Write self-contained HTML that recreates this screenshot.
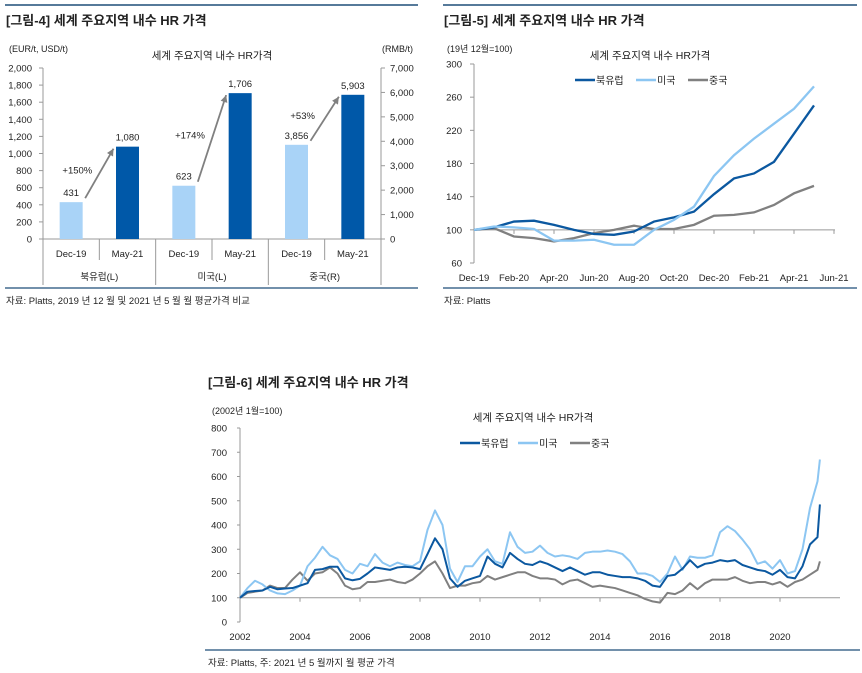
<!DOCTYPE html>
<html><head><meta charset="utf-8"><style>
body{margin:0;background:#fff;width:862px;height:673px;overflow:hidden;font-family:"Liberation Sans","Noto Sans CJK KR",sans-serif;}
svg{display:block}
text{font-family:"Liberation Sans","Noto Sans CJK KR",sans-serif;fill:#222}
</style></head><body>
<svg id="s" width="862" height="673">
<!-- Figure 4 -->
<g>
<line x1="5" y1="5" x2="418" y2="5" stroke="#1f4e79" stroke-width="1.5"/>
<text x="6" y="25" font-size="13" font-weight="bold" fill="#222">[그림-4] 세계 주요지역 내수 HR 가격</text>
<text x="9" y="52" font-size="9">(EUR/t, USD/t)</text>
<text x="382" y="52" font-size="9">(RMB/t)</text>
<text x="212" y="59" font-size="10.5" text-anchor="middle">세계 주요지역 내수 HR가격</text>
<line x1="5" y1="288" x2="418" y2="288" stroke="#1f4e79" stroke-width="1.2"/>
<text x="6" y="304" font-size="9.5" fill="#888">자료: Platts, 2019 년 12 월 및 2021 년 5 월 월 평균가격 비교</text>
<g id="c1"></g>
</g>
<!-- Figure 5 -->
<g>
<line x1="443" y1="5" x2="857" y2="5" stroke="#1f4e79" stroke-width="1.5"/>
<text x="444" y="25" font-size="13" font-weight="bold">[그림-5] 세계 주요지역 내수 HR 가격</text>
<text x="447" y="52" font-size="9">(19년 12월=100)</text>
<text x="650" y="59" font-size="10.5" text-anchor="middle">세계 주요지역 내수 HR가격</text>
<line x1="443" y1="288" x2="857" y2="288" stroke="#1f4e79" stroke-width="1.2"/>
<text x="444" y="304" font-size="9.5" fill="#888">자료: Platts</text>
<g id="c2"></g>
</g>
<!-- Figure 6 -->
<g>
<text x="208" y="387" font-size="13" font-weight="bold">[그림-6] 세계 주요지역 내수 HR 가격</text>
<text x="212" y="414" font-size="9">(2002년 1월=100)</text>
<text x="533" y="421" font-size="10.5" text-anchor="middle">세계 주요지역 내수 HR가격</text>
<line x1="205" y1="650" x2="860" y2="650" stroke="#1f4e79" stroke-width="1.2"/>
<text x="208" y="666" font-size="9.5" fill="#888">자료: Platts, 주: 2021 년 5 월까지 월 평균 가격</text>
<g id="c3"></g>
</g>
</svg>
<script>
// ---- Chart 1 data ----
const c1Regions=["북유럽(L)","미국(L)","중국(R)"];
const c1Periods=["Dec-19","May-21"];
const c1Values=[431,1080,623,1706,3856,5903];
const c1Axis=["L","L","L","L","R","R"];
const c1Growth=["+150%","+174%","+53%"];
const c1LeftTicks=[0,200,400,600,800,1000,1200,1400,1600,1800,2000];
const c1RightTicks=[0,1000,2000,3000,4000,5000,6000,7000];
// ---- Chart 2 data ----
const c2Labels=["Dec-19","Feb-20","Apr-20","Jun-20","Aug-20","Oct-20","Dec-20","Feb-21","Apr-21","Jun-21"];
const c2Europe=[100,103,110,111,106,100,95,94,98,110,115,122,143,162,168,182,216,250];
const c2US=[100,104,103,101,87,87,88,82,82,100,112,128,165,190,210,228,246,273];
const c2China=[100,102,92,90,86,90,96,100,105,101,101,106,117,118,121,130,144,153];
const c2Ticks=[60,100,140,180,220,260,300];
// ---- Chart 3 data ----
const c3Years=[2002,2004,2006,2008,2010,2012,2014,2016,2018,2020];
const c3Ticks=[0,100,200,300,400,500,600,700,800];
const c3Dates=[2002,2002.25,2002.5,2002.75,2003,2003.25,2003.5,2003.75,2004,2004.25,2004.5,2004.75,2005,2005.25,2005.5,2005.75,2006,2006.25,2006.5,2006.75,2007,2007.25,2007.5,2007.75,2008,2008.25,2008.5,2008.75,2009,2009.25,2009.5,2009.75,2010,2010.25,2010.5,2010.75,2011,2011.25,2011.5,2011.75,2012,2012.25,2012.5,2012.75,2013,2013.25,2013.5,2013.75,2014,2014.25,2014.5,2014.75,2015,2015.25,2015.5,2015.75,2016,2016.25,2016.5,2016.75,2017,2017.25,2017.5,2017.75,2018,2018.25,2018.5,2018.75,2019,2019.25,2019.5,2019.75,2020,2020.25,2020.5,2020.75,2021,2021.25,2021.33];
const c3Europe=[100,125,128,130,145,135,138,140,150,160,215,218,228,228,180,172,178,200,225,220,215,225,228,225,218,280,345,300,180,145,170,180,190,270,240,225,285,260,240,235,250,240,225,210,225,210,195,205,205,195,190,185,185,180,170,150,145,190,195,220,255,225,240,245,255,250,255,235,225,215,210,195,215,185,180,230,320,350,485];
const c3US=[100,140,170,155,130,118,115,130,150,230,265,310,275,260,215,200,240,230,280,245,230,245,235,230,250,380,460,400,220,165,230,230,270,300,250,240,370,310,285,290,315,285,270,275,270,260,285,290,290,295,290,280,250,200,200,190,165,200,270,215,270,265,265,275,370,395,375,340,300,240,250,220,255,200,210,300,470,580,670];
const c3China=[100,120,125,130,150,140,140,175,205,170,200,205,225,200,150,135,140,165,165,170,175,165,160,175,200,230,250,200,140,150,150,160,165,190,175,185,195,205,205,190,180,180,175,155,170,175,160,145,150,145,140,130,120,110,95,85,80,120,115,130,160,135,160,175,175,175,185,170,160,165,165,155,165,145,165,175,195,215,250];

const NS="http://www.w3.org/2000/svg";
function mk(parent,tag,attrs,txt){const e=document.createElementNS(NS,tag);for(const k in attrs)e.setAttribute(k,attrs[k]);if(txt!==undefined)e.textContent=txt;parent.appendChild(e);return e;}
const fmt=v=>v.toLocaleString("en-US");

// ===== Chart 1 =====
(function(){
 const g=document.getElementById("c1");
 const x0=43,x1=381,y0=239,yTop=68;
 const yL=v=>y0-(v/2000)*(y0-yTop);
 const yR=v=>y0-(v/7000)*(y0-yTop);
 const slot=(x1-x0)/c1Values.length;
 let e;
 e=mk(g,"line",{x1:x0,y1:yTop,x2:x0,y2:y0,stroke:"#999"});
 
 
 e=mk(g,"line",{x1:x1,y1:yTop,x2:x1,y2:y0,stroke:"#999"});
 
 
 c1LeftTicks.forEach(t=>{const y=yL(t);mk(g,"line",{x1:x0-4,y1:y,x2:x0,y2:y,stroke:"#999"});
  e=mk(g,"text",{x:32,y:y+3.5,"font-size":"9.5","text-anchor":"end"},fmt(t));
  
  });
 c1RightTicks.forEach(t=>{const y=yR(t);mk(g,"line",{x1:x1,y1:y,x2:x1+4,y2:y,stroke:"#999"});
  e=mk(g,"text",{x:390,y:y+3.5,"font-size":"9.5"},fmt(t));
  
  });
 e=mk(g,"line",{x1:x0,y1:y0,x2:x1,y2:y0,stroke:"#999"});
 
 
 const tops=[];
 c1Values.forEach((v,i)=>{
  const cx=x0+slot*(i+0.5);const y=c1Axis[i]==="L"?yL(v):yR(v);
  tops.push([cx,y]);
  e=mk(g,"rect",{x:cx-11.5,y:y,width:23,height:y0-y,fill:i%2?"#0058a8":"#a9d3f7"});
  
  
  e=mk(g,"text",{x:cx,y:y-6,"font-size":"9.5","text-anchor":"middle"},fmt(v));
  
  
  e=mk(g,"text",{x:cx,y:257,"font-size":"9.5","text-anchor":"middle"},c1Periods[i%2]);
  
  
  if(i>0) mk(g,"line",{x1:x0+slot*i,y1:y0,x2:x0+slot*i,y2:i%2?260:285,stroke:"#999"});
 });
 mk(g,"line",{x1:x0,y1:y0,x2:x0,y2:285,stroke:"#999"});
 mk(g,"line",{x1:x1,y1:y0,x2:x1,y2:285,stroke:"#999"});
 c1Regions.forEach((r,k)=>{
  e=mk(g,"text",{x:x0+slot*(2*k+1),y:280,"font-size":"9.5","text-anchor":"middle"},r);
  
  
  const a=tops[2*k],b=tops[2*k+1];
  const sx=a[0]+14,sy=a[1]-4,ex=b[0]-14,ey=b[1]+2;
  mk(g,"line",{x1:sx,y1:sy,x2:ex,y2:ey,stroke:"#808080","stroke-width":"1.8"});
  const ang=Math.atan2(ey-sy,ex-sx);
  const p=(d,o)=>[ex-d*Math.cos(ang)+o*Math.sin(ang),ey-d*Math.sin(ang)-o*Math.cos(ang)];
  const p1=p(7,3.5),p2=p(7,-3.5);
  mk(g,"polygon",{points:`${ex},${ey} ${p1} ${p2}`,fill:"#808080"});
  e=mk(g,"text",{x:(sx+ex)/2-22,y:(sy+ey)/2,"font-size":"9.5","text-anchor":"middle"},c1Growth[k]);
  
  
 });
})();

// ===== Line chart helper =====
function legend(g,x,y,items){
 items.forEach(it=>{mk(g,"line",{x1:x,y1:y,x2:x+20,y2:y,stroke:it[1],"stroke-width":"2.5"});
  const e=mk(g,"text",{x:x+21,y:y+4,"font-size":"10"},it[0]);
  
  
  x+=it[2];});
}
// ===== Chart 2 =====
(function(){
 const g=document.getElementById("c2");
 const ax=474,yT=64,yB=263;
 const y=v=>yB-(v-60)/240*(yB-yT);
 const x=i=>ax+i*20;
 let e;
 e=mk(g,"line",{x1:ax,y1:yT,x2:ax,y2:yB,stroke:"#999"});
 
 
 c2Ticks.forEach(t=>{mk(g,"line",{x1:ax-4,y1:y(t),x2:ax,y2:y(t),stroke:"#999"});
  e=mk(g,"text",{x:462,y:y(t)+3.5,"font-size":"9.5","text-anchor":"end"},t);
  
  });
 e=mk(g,"line",{x1:ax,y1:y(100),x2:835,y2:y(100),stroke:"#999"});
 
 
 c2Labels.forEach((l,k)=>{const xx=x(2*k);mk(g,"line",{x1:xx,y1:y(100),x2:xx,y2:y(100)+4,stroke:"#999"});
  e=mk(g,"text",{x:xx,y:281,"font-size":"9.5","text-anchor":"middle"},l);
  
  });
 [[c2China,"#808080","series-china"],[c2Europe,"#0b58a0","series-north-europe"],[c2US,"#8cc6f2","series-us"]].forEach(s=>{
  e=mk(g,"polyline",{points:s[0].map((v,i)=>x(i)+","+y(v)).join(" "),fill:"none",stroke:s[1],"stroke-width":"2.3"});
  
  });
 legend(g,575,80,[["북유럽","#0b58a0",61],["미국","#8cc6f2",52],["중국","#808080",50]]);
})();
// ===== Chart 3 =====
(function(){
 const g=document.getElementById("c3");
 const ax=240,yT=428,yB=622;
 const y=v=>yB-v/800*(yB-yT);
 const x=d=>ax+(d-2002)*30;
 let e;
 e=mk(g,"line",{x1:ax,y1:yT,x2:ax,y2:yB,stroke:"#999"});
 
 
 c3Ticks.forEach(t=>{mk(g,"line",{x1:ax-3,y1:y(t),x2:ax,y2:y(t),stroke:"#999"});
  e=mk(g,"text",{x:227,y:y(t)+3.5,"font-size":"9.5","text-anchor":"end"},t);
  
  });
 e=mk(g,"line",{x1:ax,y1:y(100),x2:840,y2:y(100),stroke:"#999"});
 
 
 c3Years.forEach(yr=>{const xx=x(yr);mk(g,"line",{x1:xx,y1:y(100),x2:xx,y2:y(100)+4,stroke:"#999"});
  e=mk(g,"text",{x:xx,y:640,"font-size":"9.5","text-anchor":"middle"},yr);
  
  });
 [[c3China,"#808080","series-china"],[c3US,"#8cc6f2","series-us"],[c3Europe,"#0b58a0","series-north-europe"]].forEach(s=>{
  e=mk(g,"polyline",{points:s[0].map((v,i)=>x(c3Dates[i])+","+y(v)).join(" "),fill:"none",stroke:s[1],"stroke-width":"2","stroke-linejoin":"round"});
  
  });
 legend(g,460,443,[["북유럽","#0b58a0",58],["미국","#8cc6f2",52],["중국","#808080",50]]);
})();
</script>
</body></html>
